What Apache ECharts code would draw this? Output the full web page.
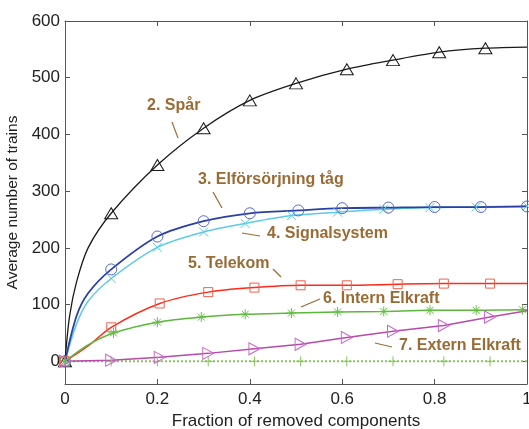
<!DOCTYPE html>
<html>
<head>
<meta charset="utf-8">
<script src="https://cdn.jsdelivr.net/npm/echarts@6/dist/echarts.min.js"></script>
<style>
  html, body { margin: 0; padding: 0; background: #fff; }
  #chart { width: 529px; height: 429px; }
</style>
</head>
<body>
<div id="chart"></div>
<script>
// tick labels
const xTicks = [0, 0.2, 0.4, 0.6, 0.8, 1];
const yTicks = [0, 100, 200, 300, 400, 500, 600];

// 1. (unnamed, stays at zero)
const zeroX = [0, 0.1, 0.2, 0.31, 0.41, 0.51, 0.61, 0.71, 0.82, 0.92, 1];
const zeroY = [0, 0, 0, 0, 0, 0, 0, 0, 0, 0, 0];
const zeroMarks = [0, 1, 2, 3, 4, 5, 6, 7, 8, 9];

// 2. Spår
const sparX = [0, 0.01, 0.025, 0.05, 0.1, 0.2, 0.3, 0.4, 0.5, 0.61, 0.71, 0.81, 0.91, 1];
const sparY = [0, 80, 140, 200, 261, 346, 411, 460, 490, 515, 531, 545, 552, 554];
const sparMarks = [0, 4, 5, 6, 7, 8, 9, 10, 11, 12];

// 3. Elförsörjning tåg
const elX = [0, 0.025, 0.05, 0.1, 0.2, 0.3, 0.4, 0.505, 0.6, 0.7, 0.8, 0.9, 1];
const elY = [0, 80, 120, 162, 220, 247, 261, 266, 270, 271, 272, 272, 273];
const elMarks = [0, 3, 4, 5, 6, 7, 8, 9, 10, 11, 12];

// 4. Signalsystem
const sigX = [0, 0.025, 0.05, 0.1, 0.2, 0.3, 0.39, 0.49, 0.59, 0.69, 0.79, 0.89, 1];
const sigY = [0, 66, 106, 146, 201, 228, 243, 257, 263, 268, 271, 272, 274];
const sigMarks = [0, 3, 4, 5, 6, 7, 8, 9, 10, 11, 12];

// 5. Telekom
const telX = [0, 0.05, 0.1, 0.205, 0.31, 0.41, 0.51, 0.61, 0.72, 0.82, 0.92, 1];
const telY = [0, 27, 60, 102, 122, 130, 134, 134, 136, 137, 137, 137];
const telMarks = [0, 2, 3, 4, 5, 6, 7, 8, 9, 10];

// 6. Intern Elkraft
const intX = [0, 0.05, 0.105, 0.2, 0.295, 0.39, 0.49, 0.59, 0.69, 0.79, 0.89, 0.99, 1];
const intY = [0, 29, 50, 69, 78, 83, 85, 87, 88, 90, 90, 91, 91];
const intMarks = [0, 2, 3, 4, 5, 6, 7, 8, 9, 10, 11];

// 7. Extern Elkraft
const extX = [0, 0.1, 0.205, 0.31, 0.41, 0.51, 0.61, 0.71, 0.82, 0.92, 1];
const extY = [0, 2, 7, 14, 22, 30, 42, 53, 63, 78, 89];
const extMarks = [0, 1, 2, 3, 4, 5, 6, 7, 8, 9];

const FONT = '"Liberation Sans", Arial, sans-serif';
const AXIS = '#555';
const NOTE = '#9b6b34';

// marker shapes (MATLAB style, hollow)
const SYM_X = 'path://M0,0L10,10M10,0L0,10';
const SYM_STAR = 'path://M5,0L5,10M0,5L10,5M1.5,1.5L8.5,8.5M8.5,1.5L1.5,8.5';
const SYM_PLUS = 'path://M5,0L5,10M0,5L10,5';
const SYM_RTRI = 'path://M0,0L10,5L0,10Z';

function pts(xs, ys, marks) {
    return xs.map((x, i) => marks.indexOf(i) >= 0 ? [x, ys[i]] : {value: [x, ys[i]], symbol: 'none'});
}

function curve(name, xs, ys, marks, opt) {
    return {
        name: name,
        type: 'line',
        data: pts(xs, ys, marks),
        smooth: opt.smooth === undefined ? 0.3 : opt.smooth,
        symbol: opt.symbol,
        symbolSize: opt.size,
        showAllSymbol: true,
        lineStyle: {color: opt.line, width: opt.width || 1.5, type: opt.type || 'solid'},
        itemStyle: {color: 'rgba(0,0,0,0)', borderColor: opt.mark, borderWidth: 1},
        emphasis: {disabled: true},
        animation: false
    };
}

let chart = echarts.init(document.getElementById('chart'));

// annotation labels and pointer strokes (pixel layout)
const notes = [
    {text: '2. Spår', x: 147, y: 106, l: [172, 122, 178, 138]},
    {text: '3. Elförsörjning tåg', x: 198, y: 180, l: [213, 192, 222, 208]},
    {text: '4. Signalsystem', x: 267, y: 234, l: [242, 233, 260, 236]},
    {text: '5. Telekom', x: 188, y: 264, l: [273, 269, 281, 277]},
    {text: '6. Intern Elkraft', x: 323, y: 299, l: [301, 307, 320, 299]},
    {text: '7. Extern Elkraft', x: 399, y: 346, l: [375, 343, 392, 347]}
];
let graphic = [];
notes.forEach(n => {
    graphic.push({type: 'text', x: n.x, y: n.y, z: 10,
        style: {text: n.text, fill: NOTE, font: 'bold 16px ' + FONT, verticalAlign: 'middle'}});
    graphic.push({type: 'line', z: 10,
        shape: {x1: n.l[0], y1: n.l[1], x2: n.l[2], y2: n.l[3]},
        style: {stroke: NOTE, lineWidth: 1.2}});
});

const axisBase = {
    axisLine: {show: true, onZero: false, lineStyle: {color: AXIS, width: 1}},
    axisTick: {show: true, inside: true, length: 5, lineStyle: {color: AXIS}},
    splitLine: {show: false}
};

chart.setOption({
    backgroundColor: '#fff',
    animation: false,
    grid: {left: 65, right: 2, top: 21, bottom: 45, containLabel: false, outerBoundsMode: 'none'},
    xAxis: [
        Object.assign({}, axisBase, {
            type: 'value', min: 0, max: 1, interval: 0.2, position: 'bottom',
            name: 'Fraction of removed components', nameLocation: 'middle', nameGap: 26,
            nameTextStyle: {fontSize: 17, fontFamily: FONT, color: '#222'},
            axisLabel: {fontSize: 17, fontFamily: FONT, color: '#222', margin: 7,
                customValues: xTicks, formatter: v => String(v)}
        }),
        Object.assign({}, axisBase, {
            type: 'value', min: 0, max: 1, interval: 0.2, position: 'top',
            axisLabel: {show: false}
        })
    ],
    yAxis: [
        Object.assign({}, axisBase, {
            type: 'value', min: -40, max: 600, position: 'left',
            name: 'Average number of trains', nameLocation: 'middle', nameGap: 35,
            nameTextStyle: {fontSize: 15.5, fontFamily: FONT, color: '#222'},
            axisTick: {show: true, inside: true, length: 5, lineStyle: {color: AXIS}, customValues: yTicks},
            axisLabel: {fontSize: 17, fontFamily: FONT, color: '#222', margin: 5, customValues: yTicks}
        }),
        Object.assign({}, axisBase, {
            type: 'value', min: -40, max: 600, position: 'right',
            axisTick: {show: true, inside: true, length: 5, lineStyle: {color: AXIS}, customValues: yTicks},
            axisLabel: {show: false}
        })
    ],
    graphic: graphic,
    series: [
        curve('1.', zeroX, zeroY, zeroMarks, {line: '#86c85a', mark: '#86c85a', symbol: SYM_PLUS, size: 10, width: 2, type: 'dotted', smooth: false}),
        curve('2. Spår', sparX, sparY, sparMarks, {line: '#1a1a1a', mark: '#1a1a1a', symbol: 'triangle', size: [13, 11], width: 1.3}),
        curve('4. Signalsystem', sigX, sigY, sigMarks, {line: '#5ccbe6', mark: '#5ccbe6', symbol: SYM_X, size: 9, width: 1.5}),
        curve('3. Elförsörjning tåg', elX, elY, elMarks, {line: '#2b40a5', mark: '#5566cc', symbol: 'circle', size: 11, width: 1.8}),
        curve('5. Telekom', telX, telY, telMarks, {line: '#ff2a1a', mark: '#f2604c', symbol: 'rect', size: 9, width: 1.5}),
        curve('6. Intern Elkraft', intX, intY, intMarks, {line: '#5cb83c', mark: '#62c040', symbol: SYM_STAR, size: 10, width: 1.5}),
        curve('7. Extern Elkraft', extX, extY, extMarks, {line: '#b84aaa', mark: '#cc66cc', symbol: SYM_RTRI, size: [11, 12], width: 1.5, smooth: false})
    ]
});
</script>
</body>
</html>
